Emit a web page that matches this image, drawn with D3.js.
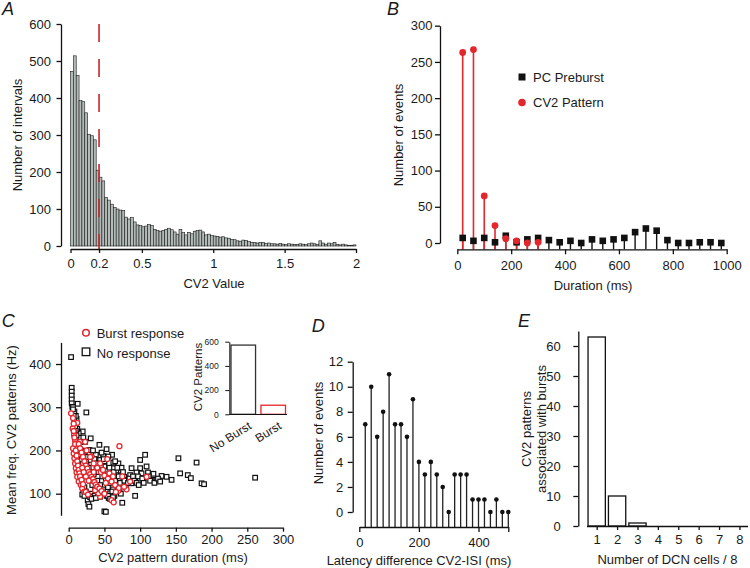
<!DOCTYPE html>
<html><head><meta charset="utf-8">
<script src="https://cdn.jsdelivr.net/npm/d3@7"></script>
<style>
body{margin:0;background:#fff;}
svg text{font-family:"Liberation Sans",Arial,Helvetica,sans-serif;fill:#1a1a1a;}
</style></head><body>
<svg id="chart" width="750" height="568" xmlns="http://www.w3.org/2000/svg"></svg>
<script>
// ---------- Panel A: CV2 histogram (bin width 0.02, 0..2) ----------
const histBinWidth = 0.02;
const histCounts = [
 472,514,461,393,390,360,302,298,287,205,186,176,
 131,124,113,104,100,97,96,78,73,
 77,65,57,55,52,54,58,55,45,42,
 40,42,45,48,44,38,32,45,36,30,
 37,33,40,42,43,38,30,32,28,27,
 26,24,25,22,21,18,17,14,13,16,
 15,12,10,9,8,9,10,7,8,6,
 6,5,7,5,4,6,5,4,4,6,
 5,4,6,8,6,4,14,8,5,8,
 6,10,4,3,5,3,2,2,3
];
const histXTicks = [0, 0.2, 0.5, 1, 1.5, 2];
const histYTicks = [0, 100, 200, 300, 400, 500, 600];
const cv2Threshold = 0.2;

// ---------- Panel B ----------
const durations = [20,60,100,140,180,220,260,300,340,380,420,460,500,540,580,620,660,700,740,780,820,860,900,940,980];
const preburst  = [7,3,7,1,10,1,5,7,4,1,3,0,5,3,5,7,15,20,17,4,0,0,1,1,0];
const cv2Durations = [20,60,100,140,180,220,260,300];
const cv2Pattern   = [263,267,65,24,6,3,0,1];
const bXTicks = [0,200,400,600,800,1000];
const bYTicks = [0,50,100,150,200,250,300];

// ---------- Panel C ----------
const noResponse = [
 [3.3,416],[4.2,345],[4.2,336],[4.2,327],[4.2,318],[4.2,309],[5,301],[12.6,308],[24.7,288],[11,273],[10,259],
 [19.6,244],[20.5,230],[30.8,228],[13.5,217],[22.9,220],[43,213],[29,201],[53,203],[60.7,190],[42,189],[48.5,187],
 [23,187],[30,178],[37,172],[44,178],[55.5,186],[62.5,172],[25,166],[39,159],[50,163],[62.5,159],[73,153],[69.6,170],
 [67,143],[77.5,139],[76.6,128],[81,132],[88,159],[100,178],[100,159],[107,190],[109,163],[95,149],[102,147],[111,149],
 [118.6,146],[130,141],[137,139],[144,132],[153.6,182],[156,147],[166.7,143],[171,136],[179,172],[186,124],[189.5,122],
 [261,137],[26.6,85],[27.6,76],[29,70],[50,59],[52,58],[75,79],[93,95],[44,93],[34.5,99],[20.5,102],[58,101],[67,105],
 [88,124],[104.6,128],[116,132],[123,132],[86,143],[93,136],
 [20,170],[22,150],[25,140],[28,160],[30,130],[32,150],[33,120],[35,145],[37,110],[38,190],[40,130],[42,150],[44,120],
 [45,165],[47,140],[48,110],[50,175],[52,130],[54,145],[55,115],[57,160],[58,125],[60,140],[62,110],[63,150],[65,130],
 [67,120],[70,140],[72,125],[74,160],[78,130],[80,115],[83,125],[85,135],[90,140],[92,130],[95,125],[97,140],[98,120],
 [103,135],[105,125],[112,140],[114,130],[120,125],[125,135],[128,128],[18,200],[16,220],[14,240],[12,250],[10,280],
 [8,290],[6,300],[10,230],[12,210],[15,190],[18,180],[24,175],[27,185],[34,200],[36,180],[40,170],[46,195],[49,180],
 [65,175],[68,160],[76,150],[31,100],[36,95],[41,100],[46,105],[53,95],[56,90],[61,105],[64,95],[71,110],[73,100],
 [22,115],[24,105],[18,125],[16,140],[14,160],[6,295],[7,280],[8,268],[9,255],[10,245],[8,240],[11,235],
 [19,98],[22,95],[30,92],[32,88],[38,90],[55,95],[58,88],[62,92]
];
const burstResponse = [
 [3.3,286],[5.6,251],[7.5,236],[8.9,224],[11,216],[12,264],[15.9,220],[23,220],
 [6,205],[7,193],[8,182],[9,170],[10,159],[11,149],[12,139],[14,128],[17,120],[19,112],[22,105],
 [32,186],[44,170],[54,180],[57,147],[71,210],[109,139],[86,128],[81,110],[77.5,116],[69.6,107],[60,85],[63,80],
 [44,93],[41.5,101],[37,108],
 [6,275],[7,262],[7,245],[8,230],[9,215],[10,200],[11,188],[12,175],[13,165],[14,155],[15,147],[16,140],[18,132],
 [20,122],[24,104],[27,98],
 [14,215],[16,205],[18,195],[20,185],[22,175],[24,165],[26,158],[28,150],[30,145],[32,139],[34,134],[36,127],[38,121],
 [40,116],[43,112],[46,106],[50,100],
 [25,200],[30,185],[35,170],[40,160],[45,150],[50,142],[55,135],[60,128],[65,120],[70,113],
 [48,155],[52,125],[62,140],[66,104],[75,140],[35,150],[28,130],[24,140],[19,160],[21,150]
];
const cXTicks = [0,50,100,150,200,250,300];
const cYTicks = [100,200,300,400];
const insetCats = ["No Burst","Burst"];
const insetValues = [572,75];
const insetYTicks = [0,200,400,600];

// ---------- Panel D ----------
const latency = [20,40,60,80,100,120,140,160,180,200,220,240,260,280,300,320,340,360,380,400,420,440,460,480,500];
const latencyCounts = [7,10,6,8,11,7,7,6,9,4,3,4,3,2,0,3,3,3,1,1,1,0,1,0,0];
const dXTicks = [0,200,400,500];
const dYTicks = [0,2,4,6,8,10,12];

// ---------- Panel E ----------
const dcnCells = [1,2,3,4,5,6,7,8];
const dcnCounts = [63,10,1,0,0,0,0,0];
const eYTicks = [0,10,20,30,40,50,60];

// ================= drawing =================
const FONT = '"Liberation Sans",Arial,Helvetica,sans-serif';
const INK = "#111";
const RED = "#e4262d";
const svg = d3.select("#chart");

function styleAxis(g, fs){
  g.attr("font-family", FONT).attr("font-size", fs);
  g.selectAll("path,line").attr("stroke", INK).attr("stroke-width", 1.3);
  g.selectAll("text").attr("fill", "#1a1a1a");
  return g;
}
function label(x, y, txt, opts={}){
  const t = svg.append("text").attr("x", x).attr("y", y).text(txt)
    .attr("font-size", opts.size || 13).attr("text-anchor", opts.anchor || "middle");
  if (opts.rotate) t.attr("transform", `rotate(${opts.rotate},${x},${y})`);
  if (opts.italic) t.attr("font-style", "italic");
  if (opts.fill) t.attr("fill", opts.fill).style("fill", opts.fill);
  return t;
}

// ---- Panel A ----
{
  const x = d3.scaleLinear().domain([0,2]).range([70.5,356]);
  const y = d3.scaleLinear().domain([0,600]).range([246,24]);
  svg.append("g").selectAll("rect").data(histCounts).join("rect")
    .attr("x", (d,i)=>x(i*histBinWidth))
    .attr("width", (d,i)=>x((i+1)*histBinWidth)-x(i*histBinWidth))
    .attr("y", d=>y(d)).attr("height", d=>y(0)-y(d))
    .attr("fill", "#b3bbb9").attr("stroke", "#1a1a1a").attr("stroke-width", 0.6);
  svg.append("line").attr("x1", x(cv2Threshold)).attr("x2", x(cv2Threshold))
    .attr("y1", 24).attr("y2", 249).attr("stroke", "#c9262c").attr("stroke-width", 1.6)
    .attr("stroke-dasharray", "18,17");
  const ya = svg.append("g").attr("transform","translate(61,0)")
    .call(d3.axisLeft(y).tickValues(histYTicks).tickSize(4.5).tickPadding(5.5).tickSizeOuter(0));
  styleAxis(ya, 13);
  const xa = svg.append("g").attr("transform","translate(0,249)")
    .call(d3.axisBottom(x).tickValues(histXTicks).tickFormat(d=>String(d)).tickSize(4).tickPadding(5.5).tickSizeOuter(0));
  styleAxis(xa, 13);
  xa.selectAll(".tick text").filter(d=>d===cv2Threshold).attr("fill", "#c9262c");
  label(214, 288, "CV2 Value");
  label(21.5, 135, "Number of intervals", {rotate:-90});
  label(2, 15, "A", {anchor:"start", size:18, italic:true});
}

// ---- Panel B ----
{
  const x = d3.scaleLinear().domain([0,1000]).range([457.3,726.7]);
  const y = d3.scaleLinear().domain([0,300]).range([243,25.7]);
  const axisY = 249.3;
  const g = svg.append("g");
  g.selectAll("line.pb").data(durations).join("line")
    .attr("x1",d=>x(d)).attr("x2",d=>x(d)).attr("y1",axisY).attr("y2",(d,i)=>y(preburst[i]))
    .attr("stroke", INK).attr("stroke-width",1.4);
  g.selectAll("line.cv").data(cv2Durations).join("line")
    .attr("x1",d=>x(d)).attr("x2",d=>x(d)).attr("y1",axisY).attr("y2",(d,i)=>y(cv2Pattern[i]))
    .attr("stroke", RED).attr("stroke-width",1.6);
  g.selectAll("rect.sq").data(durations).join("rect")
    .attr("x",d=>x(d)-3.3).attr("y",(d,i)=>y(preburst[i])-3.3).attr("width",6.6).attr("height",6.6)
    .attr("fill", INK);
  g.selectAll("circle").data(cv2Durations).join("circle")
    .attr("cx",d=>x(d)).attr("cy",(d,i)=>y(cv2Pattern[i])).attr("r",3.4).attr("fill", RED);
  const ya = svg.append("g").attr("transform","translate(440,0)")
    .call(d3.axisLeft(y).tickValues(bYTicks).tickSize(5).tickPadding(2.5).tickSizeOuter(0));
  styleAxis(ya, 13);
  const xa = svg.append("g").attr("transform",`translate(0,${axisY})`)
    .call(d3.axisBottom(x).tickValues(bXTicks).tickFormat(d=>String(d)).tickSize(5).tickPadding(6.5).tickSizeOuter(0));
  styleAxis(xa, 13);
  // legend
  svg.append("rect").attr("x",518.5).attr("y",73.5).attr("width",7).attr("height",7).attr("fill",INK);
  label(533, 81.7, "PC Preburst", {anchor:"start"});
  svg.append("circle").attr("cx",522).attr("cy",102.5).attr("r",3.8).attr("fill",RED);
  label(533, 107, "CV2 Pattern", {anchor:"start"});
  label(593, 290, "Duration (ms)");
  label(403.3, 135, "Number of events", {rotate:-90});
  label(387, 15, "B", {anchor:"start", size:18, italic:true});
}

// ---- Panel C ----
{
  const x = d3.scaleLinear().domain([0,300]).range([68.7,283]);
  const y = d3.scaleLinear().domain([50,450]).range([515.3,342.4]);
  const g = svg.append("g");
  g.selectAll("rect").data(noResponse).join("rect")
    .attr("x",d=>x(d[0])-2.3).attr("y",d=>y(d[1])-2.3).attr("width",4.6).attr("height",4.6)
    .attr("fill","#fff").attr("stroke",INK).attr("stroke-width",1.2);
  g.selectAll("circle").data(burstResponse).join("circle")
    .attr("cx",d=>x(d[0])).attr("cy",d=>y(d[1])).attr("r",2.5)
    .attr("fill","#fff").attr("stroke",RED).attr("stroke-width",1.3);
  const ya = svg.append("g").attr("transform","translate(61,0)")
    .call(d3.axisLeft(y).tickValues(cYTicks).tickSize(5).tickPadding(5).tickSizeOuter(0));
  styleAxis(ya, 13);
  const xa = svg.append("g").attr("transform","translate(0,527.7)")
    .call(d3.axisBottom(x).tickValues(cXTicks).tickSize(4).tickPadding(3.5).tickSizeOuter(0));
  styleAxis(xa, 13);
  // legend
  svg.append("circle").attr("cx",86).attr("cy",332.7).attr("r",3.3).attr("fill","none").attr("stroke",RED).attr("stroke-width",1.5);
  label(96.7, 337.6, "Burst response", {anchor:"start"});
  svg.append("rect").attr("x",82.2).attr("y",348).attr("width",7.6).attr("height",7.6).attr("fill","none").attr("stroke",INK).attr("stroke-width",1.3);
  label(96.7, 357.7, "No response", {anchor:"start"});
  label(173, 561.6, "CV2 pattern duration (ms)");
  label(16, 430, "Mean freq. CV2 patterns (Hz)", {rotate:-90});
  label(1.7, 326.7, "C", {anchor:"start", size:18, italic:true});

  // inset
  const ix = d3.scaleBand().domain(insetCats).range([229.5,287]).paddingInner(0.18).paddingOuter(0.05);
  const iy = d3.scaleLinear().domain([0,600]).range([414.3,341.7]);
  svg.append("g").selectAll("rect").data(insetCats).join("rect")
    .attr("x",d=>ix(d)).attr("width",ix.bandwidth())
    .attr("y",(d,i)=>iy(insetValues[i])).attr("height",(d,i)=>iy(0)-iy(insetValues[i]))
    .attr("fill","#fff").attr("stroke",(d,i)=>i===0?"#333":RED).attr("stroke-width",1.3);
  const iya = svg.append("g").attr("transform","translate(229.3,0)")
    .call(d3.axisLeft(iy).tickValues(insetYTicks).tickSize(4).tickPadding(6.5).tickSizeOuter(0));
  styleAxis(iya, 8.5);
  iya.selectAll("path,line").attr("stroke-width",1);
  svg.append("line").attr("x1",229.3).attr("x2",287).attr("y1",414.5).attr("y2",414.5)
    .attr("stroke",INK).attr("stroke-width",1.1);
  insetCats.forEach((c,i)=>{
    const cx = ix(c) + ix.bandwidth()/2 + 9;
    label(cx, 428, c, {anchor:"end", size:12, rotate:-32});
  });
  label(202, 377, "CV2 Patterns", {rotate:-90, size:11.5});
}

// ---- Panel D ----
{
  const x = d3.scaleLinear().domain([0,500]).range([359.3,508.3]);
  const y = d3.scaleLinear().domain([0,12]).range([512,361.7]);
  const axisY = 527;
  const g = svg.append("g");
  g.selectAll("line").data(latency).join("line")
    .attr("x1",d=>x(d)).attr("x2",d=>x(d)).attr("y1",axisY).attr("y2",(d,i)=>y(latencyCounts[i]))
    .attr("stroke","#222").attr("stroke-width",1.3);
  g.selectAll("circle").data(latency).join("circle")
    .attr("cx",d=>x(d)).attr("cy",(d,i)=>y(latencyCounts[i])).attr("r",2.3).attr("fill",INK);
  const ya = svg.append("g").attr("transform","translate(352.7,0)")
    .call(d3.axisLeft(y).tickValues(dYTicks).tickSize(5).tickPadding(4.5).tickSizeOuter(0));
  styleAxis(ya, 13);
  const xa = svg.append("g").attr("transform",`translate(0,${axisY})`)
    .call(d3.axisBottom(x).tickValues(dXTicks).tickFormat(d=>d===500?"":String(d)).tickSize(5).tickPadding(6).tickSizeOuter(0));
  styleAxis(xa, 13);
  label(419, 565, "Latency difference CV2-ISI (ms)");
  label(322.7, 433, "Number of events", {rotate:-90});
  label(311.7, 331.7, "D", {anchor:"start", size:18, italic:true});
}

// ---- Panel E ----
{
  const x = d3.scaleLinear().domain([0.5,8.4]).range([586.5,747.6]);
  const y = d3.scaleLinear().domain([0,65]).range([526,331]);
  const bw = 17.3;
  svg.append("g").selectAll("rect").data(dcnCells).join("rect")
    .attr("x",d=>x(d)-bw/2).attr("width",bw)
    .attr("y",(d,i)=>y(dcnCounts[i])).attr("height",(d,i)=>y(0)-y(dcnCounts[i]))
    .attr("fill","#fff").attr("stroke",INK).attr("stroke-width",1.3)
    .attr("display",(d,i)=>dcnCounts[i]>0?null:"none");
  const ya = svg.append("g").attr("transform","translate(578.3,0)")
    .call(d3.axisLeft(y).tickValues(eYTicks).tickSize(5).tickPadding(12.5).tickSizeOuter(0));
  styleAxis(ya, 13);
  const xa = svg.append("g").attr("transform","translate(0,526)")
    .call(d3.axisBottom(x).tickValues(dcnCells).tickSize(4).tickPadding(5).tickSizeOuter(0));
  styleAxis(xa, 13);
  label(667.5, 564, "Number of DCN cells / 8");
  label(531, 429, "CV2 patterns", {rotate:-90});
  label(545.6, 429, "associated with bursts", {rotate:-90});
  label(518, 326.7, "E", {anchor:"start", size:18, italic:true});
}
</script>
</body></html>
